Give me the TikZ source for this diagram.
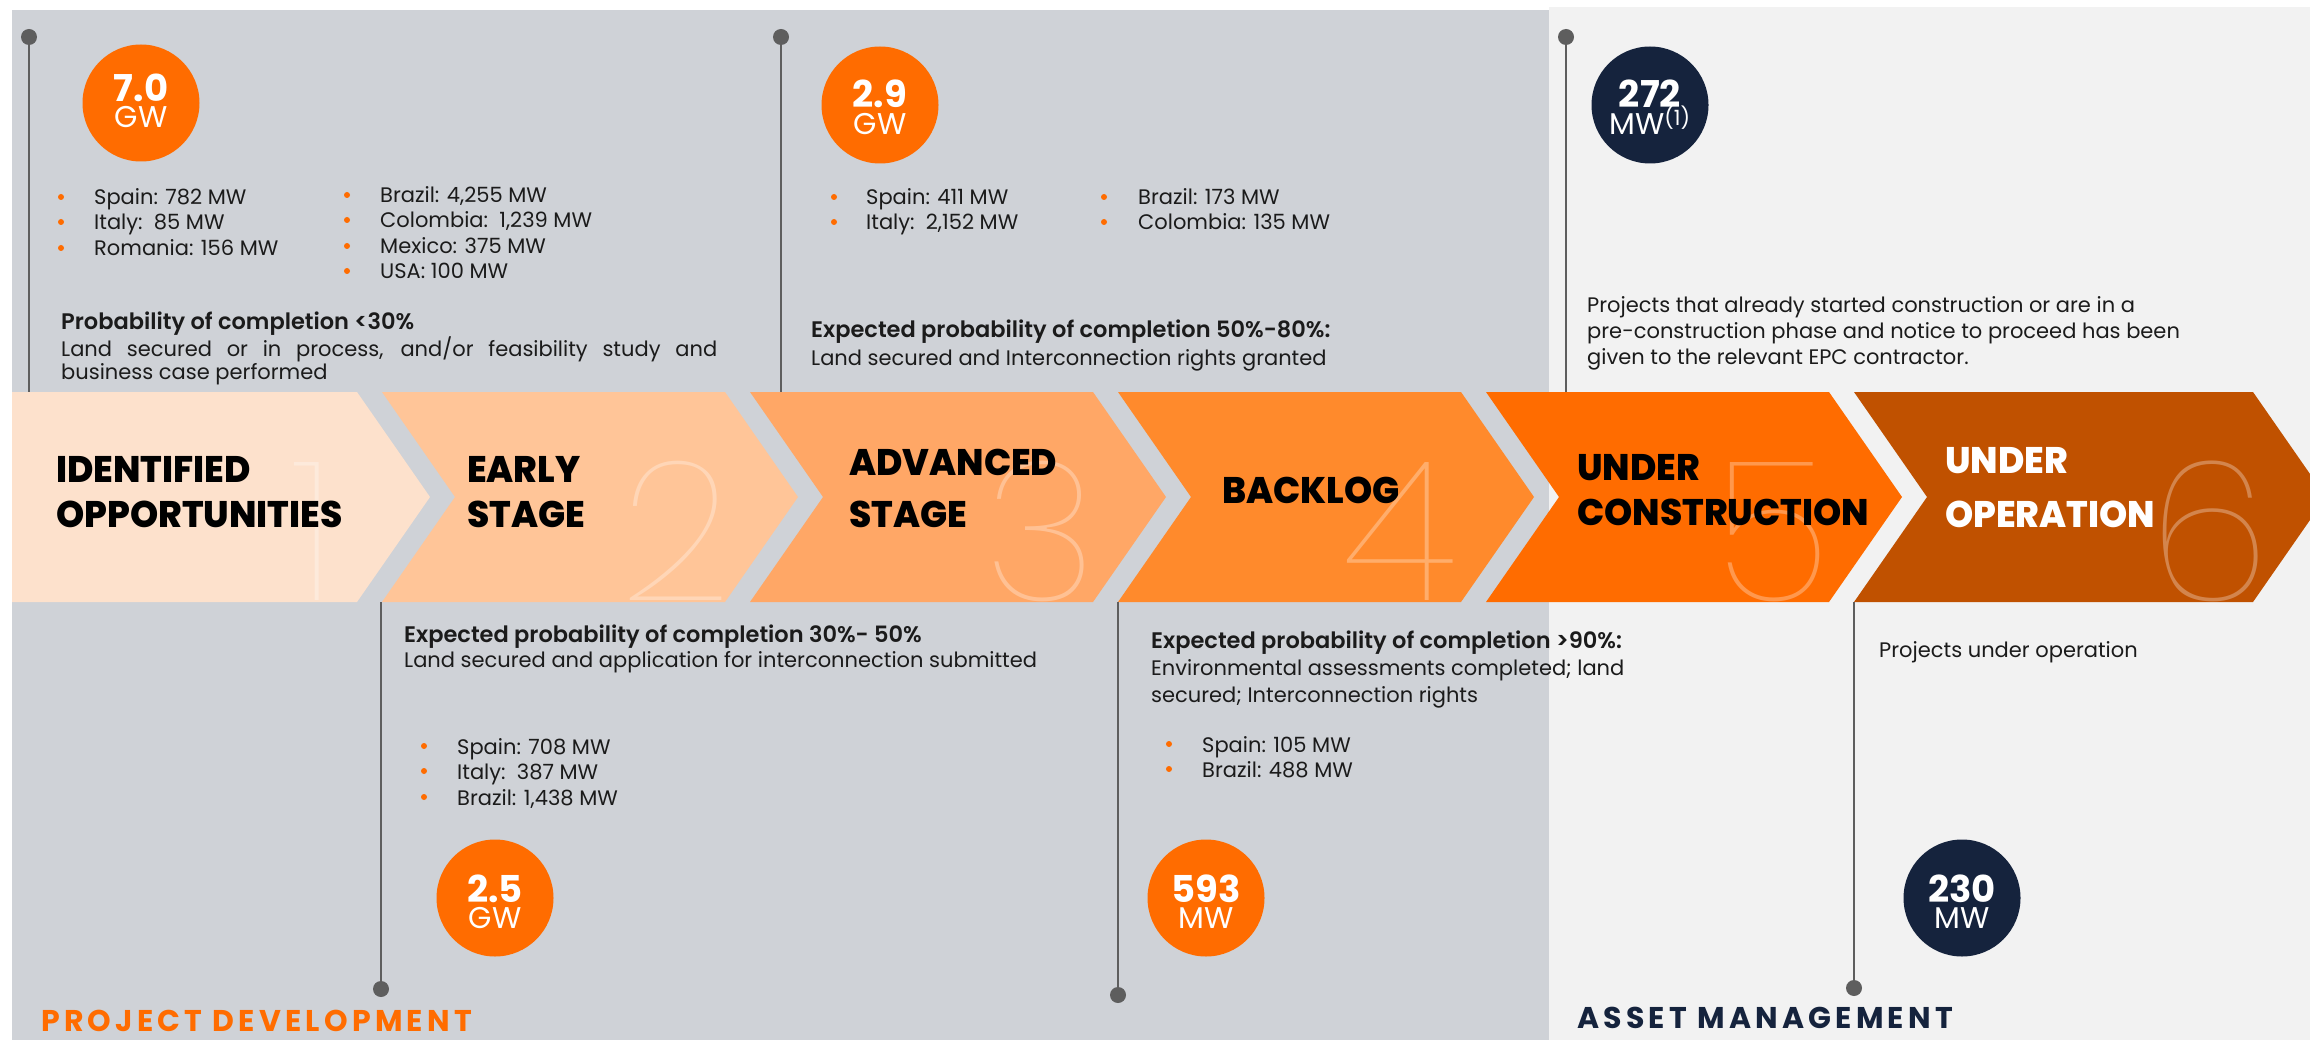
\documentclass[tikz,border=0pt]{standalone}
\usepackage{fontspec}
\usepackage{graphicx}
\setmainfont{Poppins}
\newfontfamily\pthin{Poppins Thin}
\newfontfamily\psemi{Poppins SemiBold}
\newfontfamily\pxbold{Poppins ExtraBold}
\newfontfamily\ptrack{Poppins}[LetterSpace=14]
\definecolor{bggray}{HTML}{CFD2D7}
\definecolor{bglight}{HTML}{F2F2F2}
\definecolor{ch1}{HTML}{FDE1CC}
\definecolor{ch2}{HTML}{FFC598}
\definecolor{ch3}{HTML}{FFA766}
\definecolor{ch4}{HTML}{FF8A2C}
\definecolor{ch5}{HTML}{FF6C00}
\definecolor{ch6}{HTML}{C05100}
\definecolor{orng}{HTML}{FF6C00}
\definecolor{navy}{HTML}{15233D}
\definecolor{lgray}{HTML}{5E5E5E}
\definecolor{ink}{HTML}{1B1B1B}
\newcommand\chevron[2]{\fill[#2] (#1,392) -- ++(343,0) -- ++(73,105) -- ++(-73,105) -- ++(-343,0) -- ++(73,-105) -- cycle;}
\newcommand\bitem[5]{%
  \node[bdot] (#1d) at (#2,#4-8) {};
  \node[body] (#1) at (#3,#4) {#5};}
\newcommand\ttltext[1]{\scalebox{0.97}[1]{#1}}
\begin{document}
\begin{tikzpicture}[x=1pt,y=-1pt,
 bdot/.style={circle, fill=orng, inner sep=0, minimum size=6pt},
 body/.style={font=\fontsize{21}{25}\selectfont, text=ink, anchor=base west, inner sep=0},
 head/.style={font=\psemi\fontsize{22.5}{25}\selectfont, text=ink, anchor=base west, inner sep=0},
 ttl/.style={font=\pxbold\fontsize{37}{40}\selectfont, text=black, anchor=base west, inner sep=0},
 digit/.style={font=\pthin\fontsize{196}{196}\selectfont, text=white, text opacity=0.3, anchor=base, inner sep=0},
 disc/.style={circle, inner sep=0, minimum size=117pt},
 num/.style={font=\bfseries\fontsize{37}{40}\selectfont, text=white, anchor=base, inner sep=0},
 unit/.style={font=\fontsize{30}{32}\selectfont, text=white, anchor=base, inner sep=0},
 vline/.style={draw=lgray, line width=2.6pt},
 pin/.style={circle, fill=lgray, inner sep=0, minimum size=16pt},
 lbl/.style={font=\ptrack\bfseries\fontsize{30}{32}\selectfont, anchor=base west, inner sep=0}]
\useasboundingbox (0,0) rectangle (2310,1040);
% backgrounds
\fill[white] (0,0) rectangle (2310,1040);
\fill[bggray] (12,10) rectangle (1549,1040);
\fill[bglight] (1549,7) rectangle (2310,1040);
% chevrons
\fill[ch1] (12,392) -- (357,392) -- (430,497) -- (357,602) -- (12,602) -- cycle;
\chevron{382}{ch2}
\chevron{750}{ch3}
\chevron{1118}{ch4}
\chevron{1486}{ch5}
\fill[ch6] (1854,392) -- (2253,392) -- (2326,497) -- (2253,602) -- (1854,602) -- (1927,497) -- cycle;
% big digits
\node[digit] (n1) at (314,600) {1};
\node[digit] (n2) at (676,600) {2};
\node[digit] (n3) at (1041,600) {3};
\node[digit] (n4) at (1400,600) {4};
\node[digit] (n5) at (1772,600) {5};
\node[digit] (n6) at (2210,600) {6};
% titles
\node[ttl] (t1a) at (56,482) {\ttltext{IDENTIFIED}};
\node[ttl] (t1b) at (56,527) {\ttltext{OPPORTUNITIES}};
\node[ttl] (t2a) at (467,482) {\ttltext{EARLY}};
\node[ttl] (t2b) at (467,527) {\ttltext{STAGE}};
\node[ttl] (t3a) at (849,475) {\ttltext{ADVANCED}};
\node[ttl] (t3b) at (849,527) {\ttltext{STAGE}};
\node[ttl] (t4a) at (1222,503) {\ttltext{BACKLOG}};
\node[ttl] (t5a) at (1577,480) {\ttltext{UNDER}};
\node[ttl] (t5b) at (1577,525) {\ttltext{CONSTRUCTION}};
\node[ttl, text=white] (t6a) at (1945,473) {\ttltext{UNDER}};
\node[ttl, text=white] (t6b) at (1945,527) {\ttltext{OPERATION}};
% pins and lines
\node[pin] (d1) at (29,37) {};   \coordinate (e1) at (29,392);
\node[pin] (d3) at (781,37) {};  \coordinate (e3) at (781,392);
\node[pin] (d5) at (1566,37) {}; \coordinate (e5) at (1566,392);
\node[pin] (d2) at (381,989) {}; \coordinate (e2) at (381,602);
\node[pin] (d4) at (1118,995) {}; \coordinate (e4) at (1118,602);
\node[pin] (d6) at (1854,988) {}; \coordinate (e6) at (1854,602);
\draw[vline] (d1) -- (e1);
\draw[vline] (d3) -- (e3);
\draw[vline] (d5) -- (e5);
\draw[vline] (e2) -- (d2);
\draw[vline] (e4) -- (d4);
\draw[vline] (e6) -- (d6);
% circles
\node[disc, fill=orng] (c1) at (141,103) {};
\node[num] (c1n) at (141,102) {7.0};
\node[unit] (c1u) at (141,128) {GW};
\node[disc, fill=orng] (c3) at (880,105) {};
\node[num] (c3n) at (880,108) {2.9};
\node[unit] (c3u) at (880,135) {GW};
\node[disc, fill=navy] (c5) at (1650,105) {};
\node[num] (c5n) at (1650,108) {272};
\node[unit] (c5u) at (1650,135) {MW\textsuperscript{(1)}};
\node[disc, fill=orng] (c2) at (495,898) {};
\node[num] (c2n) at (495,902) {2.5};
\node[unit] (c2u) at (495,928) {GW};
\node[disc, fill=orng] (c4) at (1206,898) {};
\node[num] (c4n) at (1206,902) {593};
\node[unit] (c4u) at (1206,928) {MW};
\node[disc, fill=navy] (c6) at (1962,898) {};
\node[num] (c6n) at (1962,902) {230};
\node[unit] (c6u) at (1962,928) {MW};
% section 1
\bitem{s1a}{61}{94}{205}{Spain: 782 MW}
\bitem{s1b}{61}{94}{230}{Italy:\ \ 85 MW}
\bitem{s1c}{61}{94}{256}{Romania: 156 MW}
\bitem{s1d}{347}{380}{203}{Brazil: 4,255 MW}
\bitem{s1e}{347}{380}{228}{Colombia:\ \ 1,239 MW}
\bitem{s1f}{347}{380}{254}{Mexico: 375 MW}
\bitem{s1g}{347}{380}{279}{USA: 100 MW}
\node[head] (h1) at (61,330) {Probability of completion <30\%};
\node[body] (p1a) at (61,357) {\makebox[656pt][s]{Land secured or in process, and/or feasibility study and}};
\node[body] (p1b) at (61,380) {business case performed};
% section 2
\node[head] (h2) at (404,642) {Expected probability of completion 30\%- 50\%};
\node[body] (p2a) at (404,667) {Land secured and application for interconnection submitted};
\bitem{s2a}{424}{457}{754}{Spain: 708 MW}
\bitem{s2b}{424}{457}{779}{Italy:\ \ 387 MW}
\bitem{s2c}{424}{457}{805}{Brazil: 1,438 MW}
% section 3
\bitem{s3a}{834}{866}{205}{Spain: 411 MW}
\bitem{s3b}{834}{866}{230}{Italy:\ \ 2,152 MW}
\bitem{s3c}{1104}{1138}{205}{Brazil: 173 MW}
\bitem{s3d}{1104}{1138}{230}{Colombia: 135 MW}
\node[head] (h3) at (811,338) {Expected probability of completion 50\%-80\%:};
\node[body] (p3a) at (811,366) {Land secured and Interconnection rights granted};
% section 4
\node[head] (h4) at (1151,648) {Expected probability of completion >90\%:};
\node[body] (p4a) at (1151,675) {Environmental assessments completed; land};
\node[body] (p4b) at (1151,702) {secured; Interconnection rights};
\bitem{s4a}{1169}{1202}{752}{Spain: 105 MW}
\bitem{s4b}{1169}{1202}{777}{Brazil: 488 MW}
% section 5
\node[body] (p5a) at (1587,313) {Projects that already started construction or are in a};
\node[body] (p5b) at (1587,339) {pre-construction phase and notice to proceed has been};
\node[body] (p5c) at (1587,365) {given to the relevant EPC contractor.};
% section 6
\node[body] (p6a) at (1879,657) {Projects under operation};
% labels
\node[lbl, text=orng] (pd) at (41,1031) {PROJECT DEVELOPMENT};
\node[lbl, text=navy] (am) at (1577,1028) {ASSET MANAGEMENT};
\end{tikzpicture}
\end{document}
